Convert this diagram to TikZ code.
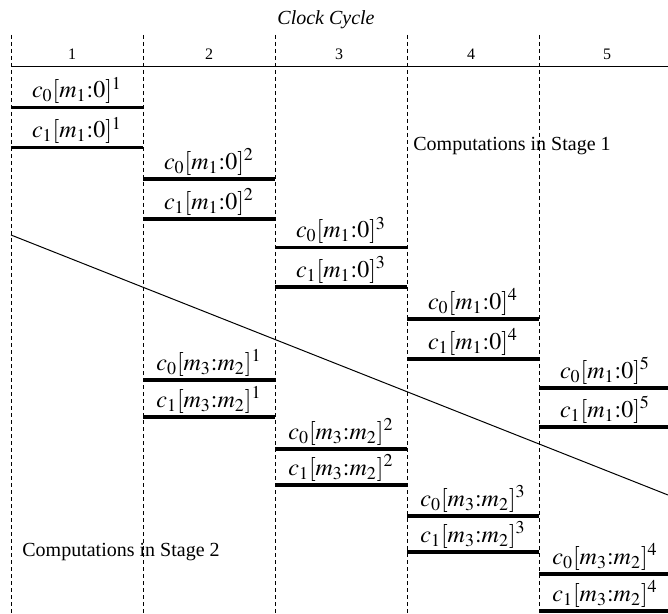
\documentclass[tikz,border=0pt]{standalone}
\usepackage{mathptmx}
\usepackage{fontspec}
\setmainfont{Liberation Serif}

\tikzset{
  cyclab/.style={anchor=base, inner sep=0pt},
  oplab/.style={anchor=base, inner sep=0pt, font=\large},
  bar/.style={line width=1.7pt},
  tick/.style={dash pattern=on 2pt off 1.5pt, line width=0.4pt},
}

\begin{document}
\begin{tikzpicture}[line cap=butt,line join=round,x=0.5pt,y=-0.5pt]
\useasboundingbox (0,0) rectangle (668,614);
% clock cycle grid
\draw[tick] (11,35) -- (11,614);
\draw[tick] (143,35) -- (143,614);
\draw[tick] (275,35) -- (275,614);
\draw[tick] (407,35) -- (407,614);
\draw[tick] (539,35) -- (539,614);
\draw[line width=0.5pt] (11,67) -- (668,67);
\node[cyclab, font=\itshape] (clk) at (326,25) {Clock Cycle};
\node[cyclab, font=\footnotesize] (c1) at (72,60) {1};
\node[cyclab, font=\footnotesize] (c2) at (209,60) {2};
\node[cyclab, font=\footnotesize] (c3) at (339,60) {3};
\node[cyclab, font=\footnotesize] (c4) at (471,60) {4};
\node[cyclab, font=\footnotesize] (c5) at (607,60) {5};
% stage 1
\node[oplab] (s1a) at (77,98) {$c_0[m_1{:}0]^1$};
\draw[bar] (11,107.7) -- (143,107.7);
\node[oplab] (s1b) at (77,138) {$c_1[m_1{:}0]^1$};
\draw[bar] (11,147.7) -- (143,147.7);
\node[oplab] (s2a) at (209,169.5) {$c_0[m_1{:}0]^2$};
\draw[bar] (143,179) -- (275,179);
\node[oplab] (s2b) at (209,209.5) {$c_1[m_1{:}0]^2$};
\draw[bar] (143,219) -- (275,219);
\node[oplab] (s3a) at (341,238) {$c_0[m_1{:}0]^3$};
\draw[bar] (275,247.7) -- (407,247.7);
\node[oplab] (s3b) at (341,277.5) {$c_1[m_1{:}0]^3$};
\draw[bar] (275,287) -- (407,287);
\node[oplab] (s4a) at (473,309.5) {$c_0[m_1{:}0]^4$};
\draw[bar] (407,319) -- (539,319);
\node[oplab] (s4b) at (473,349.5) {$c_1[m_1{:}0]^4$};
\draw[bar] (407,359) -- (539,359);
\node[oplab] (s5a) at (605,378.5) {$c_0[m_1{:}0]^5$};
\draw[bar] (539,388) -- (668,388);
\node[oplab] (s5b) at (605,417.5) {$c_1[m_1{:}0]^5$};
\draw[bar] (539,427) -- (668,427);
\node[cyclab] (st1) at (413,151) [anchor=base west] {Computations in Stage 1};
% stage 2
\node[oplab] (t2a) at (209,370.5) {$c_0[m_3{:}m_2]^1$};
\draw[bar] (143,380) -- (275,380);
\node[oplab] (t2b) at (209,407.5) {$c_1[m_3{:}m_2]^1$};
\draw[bar] (143,417) -- (275,417);
\node[oplab] (t3a) at (341,439.5) {$c_0[m_3{:}m_2]^2$};
\draw[bar] (275,449) -- (407,449);
\node[oplab] (t3b) at (341,475.5) {$c_1[m_3{:}m_2]^2$};
\draw[bar] (275,485) -- (407,485);
\node[oplab] (t4a) at (473,506.5) {$c_0[m_3{:}m_2]^3$};
\draw[bar] (407,516) -- (539,516);
\node[oplab] (t4b) at (473,542.5) {$c_1[m_3{:}m_2]^3$};
\draw[bar] (407,552) -- (539,552);
\node[oplab] (t5a) at (605,564.5) {$c_0[m_3{:}m_2]^4$};
\draw[bar] (539,574) -- (668,574);
\node[oplab] (t5b) at (605,601.5) {$c_1[m_3{:}m_2]^4$};
\draw[bar] (539,611) -- (668,611);
\node[cyclab] (st2) at (22,556) [anchor=base west] {Computations in Stage 2};
% boundary between stages
\draw[line width=0.5pt] (11,235) -- (668,495);
\end{tikzpicture}
\end{document}
